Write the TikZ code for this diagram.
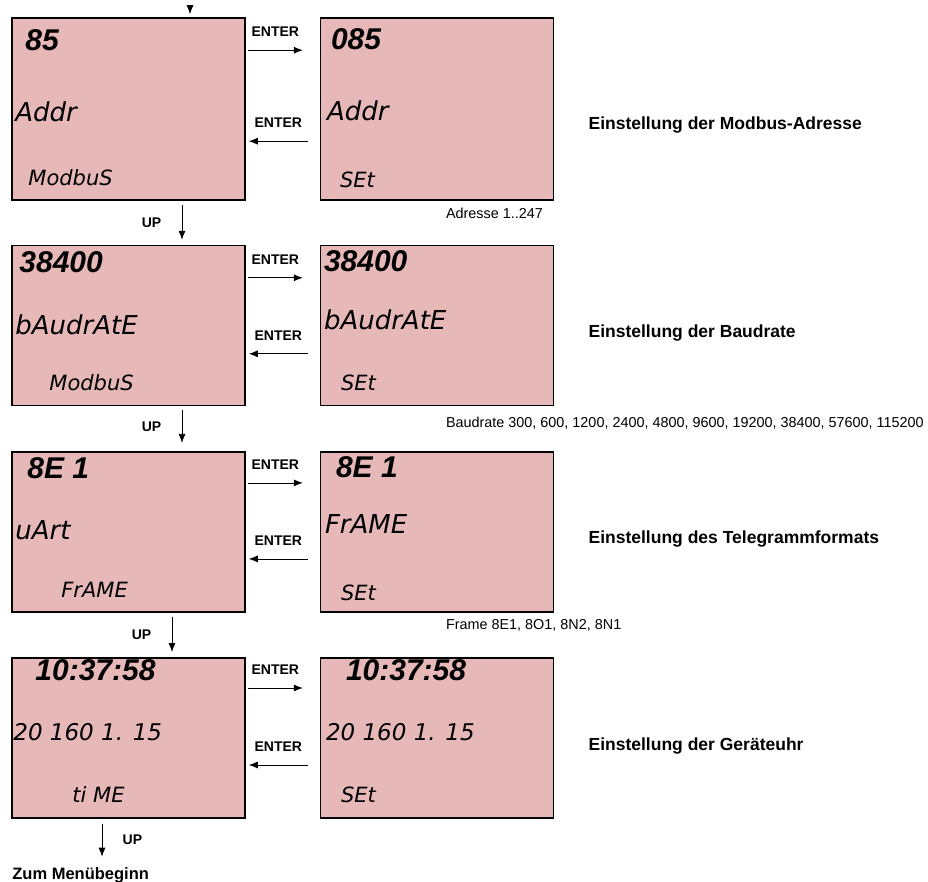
\documentclass[tikz,border=0pt]{standalone}
\usepackage{fontspec}
\setmainfont{Liberation Sans}
\newfontfamily\lcdthin{DejaVu Sans}
\usepackage{tikz}
\usetikzlibrary{arrows.meta, positioning}
\definecolor{lcdpink}{RGB}{230,184,183}

\begin{document}
\begin{tikzpicture}[
    x=1pt, y=1pt,
    lcdbox/.style={rectangle, draw, line width=1.6pt, fill=lcdpink, minimum width=233pt, minimum height=160pt},
    lcdtop/.style={anchor=west, inner sep=0pt, font=\bfseries\itshape\fontsize{30}{30}\selectfont},
    lcdmid/.style={anchor=west, inner sep=0pt, font=\lcdthin\itshape\fontsize{26}{26}\selectfont},
    lcddate/.style={anchor=west, inner sep=0pt, font=\lcdthin\itshape\fontsize{23}{23}\selectfont},
    lcdlow/.style={anchor=west, inner sep=0pt, font=\lcdthin\itshape\fontsize{21}{21}\selectfont},
    keylbl/.style={font=\bfseries\fontsize{14}{14}\selectfont},
    note/.style={anchor=west, inner sep=0pt, font=\fontsize{14.4}{15}\selectfont},
    title/.style={anchor=west, inner sep=0pt, font=\bfseries\fontsize{17.5}{17.5}\selectfont},
    arrow/.style={-{Latex[length=9pt,width=7pt]}, line width=0.8pt},
]
    \useasboundingbox (0,0) rectangle (928,-882);

    % screens: menu (left) and set (right)
    \node[lcdbox, minimum height=182pt] (m1) at (128.5,-109) {};
    \node[lcdbox, minimum height=182pt, right=74pt of m1] (e1) {};
    \node[lcdbox, below=44pt of m1.south, anchor=north] (m2) {};
    \node[lcdbox, right=74pt of m2] (e2) {};
    \node[lcdbox, below=44.5pt of m2.south, anchor=north] (m3) {};
    \node[lcdbox, right=74pt of m3] (e3) {};
    \node[lcdbox, below=44.5pt of m3.south, anchor=north] (m4) {};
    \node[lcdbox, right=74pt of m4] (e4) {};

    % display texts
    \node[lcdtop] (m1a) at ([shift={(14pt,-23pt)}]m1.north west) {85};
    \node[lcdmid] (m1b) at ([shift={(4pt,-95pt)}]m1.north west) {Addr};
    \node[lcdlow] (m1c) at ([shift={(17pt,-160pt)}]m1.north west) {ModbuS};
    \node[lcdtop] (e1a) at ([shift={(11pt,-22pt)}]e1.north west) {085};
    \node[lcdmid] (e1b) at ([shift={(7pt,-94pt)}]e1.north west) {Addr};
    \node[lcdlow] (e1c) at ([shift={(20pt,-163pt)}]e1.north west) {SEt};

    \node[lcdtop] (m2a) at ([shift={(8pt,-17pt)}]m2.north west) {38400};
    \node[lcdmid] (m2b) at ([shift={(4pt,-80pt)}]m2.north west) {bAudrAtE};
    \node[lcdlow] (m2c) at ([shift={(38pt,-138pt)}]m2.north west) {ModbuS};
    \node[lcdtop] (e2a) at ([shift={(4pt,-16pt)}]e2.north west) {38400};
    \node[lcdmid] (e2b) at ([shift={(4pt,-75pt)}]e2.north west) {bAudrAtE};
    \node[lcdlow] (e2c) at ([shift={(21pt,-138pt)}]e2.north west) {SEt};

    \node[lcdtop] (m3a) at ([shift={(16pt,-17pt)}]m3.north west) {8E 1};
    \node[lcdmid] (m3b) at ([shift={(4pt,-79pt)}]m3.north west) {uArt};
    \node[lcdlow] (m3c) at ([shift={(50pt,-139pt)}]m3.north west) {FrAME};
    \node[lcdtop] (e3a) at ([shift={(16pt,-16pt)}]e3.north west) {8E 1};
    \node[lcdmid] (e3b) at ([shift={(5pt,-73pt)}]e3.north west) {FrAME};
    \node[lcdlow] (e3c) at ([shift={(21pt,-142pt)}]e3.north west) {SEt};

    \node[lcdtop] (m4a) at ([shift={(24pt,-13pt)}]m4.north west) {10:37:58};
    \node[lcddate] (m4b) at ([shift={(2pt,-75pt)}]m4.north west) {20 160 1. 15};
    \node[lcdlow] (m4c) at ([shift={(61pt,-138pt)}]m4.north west) {ti ME};
    \node[lcdtop] (e4a) at ([shift={(26pt,-13pt)}]e4.north west) {10:37:58};
    \node[lcddate] (e4b) at ([shift={(6pt,-75pt)}]e4.north west) {20 160 1. 15};
    \node[lcdlow] (e4c) at ([shift={(21pt,-138pt)}]e4.north west) {SEt};

    % notes and titles
    \node[note] (n1) at ([shift={(126pt,-13pt)}]e1.south west) {Adresse 1..247};
    \node[note] (n2) at ([shift={(126pt,-17pt)}]e2.south west) {Baudrate 300, 600, 1200, 2400, 4800, 9600, 19200, 38400, 57600, 115200};
    \node[note] (n3) at ([shift={(126pt,-13pt)}]e3.south west) {Frame 8E1, 8O1, 8N2, 8N1};

    \node[title] (t1) at ([shift={(34pt,-16.5pt)}]e1.east) {Einstellung der Modbus-Adresse};
    \node[title] (t2) at ([shift={(34pt,-7.5pt)}]e2.east) {Einstellung der Baudrate};
    \node[title] (t3) at ([shift={(34pt,-7pt)}]e3.east) {Einstellung des Telegrammformats};
    \node[title] (t4) at ([shift={(34pt,-8pt)}]e4.east) {Einstellung der Geräteuhr};

    \node[title, font=\bfseries\fontsize{16.5}{16.5}\selectfont] (zum) at ([shift={(1pt,-57pt)}]m4.south west) {Zum Menübeginn};

    % ENTER keys
    \draw[arrow] ([shift={(2pt,-33pt)}]m1.north east) -- node[above=10pt, keylbl] {ENTER} ([shift={(-17pt,-33pt)}]e1.north west);
    \draw[arrow] ([shift={(-12pt,-124pt)}]e1.north west) -- node[above=10pt, keylbl] {ENTER} ([shift={(3pt,-124pt)}]m1.north east);
    \draw[arrow] ([shift={(2pt,-33pt)}]m2.north east) -- node[above=10pt, keylbl] {ENTER} ([shift={(-17pt,-33pt)}]e2.north west);
    \draw[arrow] ([shift={(-12pt,-109pt)}]e2.north west) -- node[above=10pt, keylbl] {ENTER} ([shift={(3pt,-109pt)}]m2.north east);
    \draw[arrow] ([shift={(2pt,-32pt)}]m3.north east) -- node[above=10pt, keylbl] {ENTER} ([shift={(-17pt,-32pt)}]e3.north west);
    \draw[arrow] ([shift={(-12pt,-108pt)}]e3.north west) -- node[above=10pt, keylbl] {ENTER} ([shift={(3pt,-108pt)}]m3.north east);
    \draw[arrow] ([shift={(2pt,-31pt)}]m4.north east) -- node[above=10pt, keylbl] {ENTER} ([shift={(-17pt,-31pt)}]e4.north west);
    \draw[arrow] ([shift={(-12pt,-108pt)}]e4.north west) -- node[above=10pt, keylbl] {ENTER} ([shift={(3pt,-108pt)}]m4.north east);

    % UP keys
    \coordinate (entry) at ([shift={(61.5pt,12pt)}]m1.north);
    \draw[arrow] (entry) -- ([shift={(61.5pt,3pt)}]m1.north);
    \draw[arrow] ([shift={(53.5pt,-4pt)}]m1.south) -- node[left=17pt, keylbl] {UP} ([shift={(53.5pt,5pt)}]m2.north);
    \draw[arrow] ([shift={(53.5pt,-4pt)}]m2.south) -- node[left=17pt, keylbl] {UP} ([shift={(53.5pt,8pt)}]m3.north);
    \draw[arrow] ([shift={(43.5pt,-4pt)}]m3.south) -- node[left=17pt, keylbl] {UP} ([shift={(43.5pt,5pt)}]m4.north);
    \coordinate (back) at ([xshift=-26.5pt]m4.south |- zum.north);
    \draw[arrow] ([shift={(-26.5pt,-5pt)}]m4.south) -- node[right=17pt, keylbl] {UP} ([yshift=11pt]back);
\end{tikzpicture}
\end{document}
